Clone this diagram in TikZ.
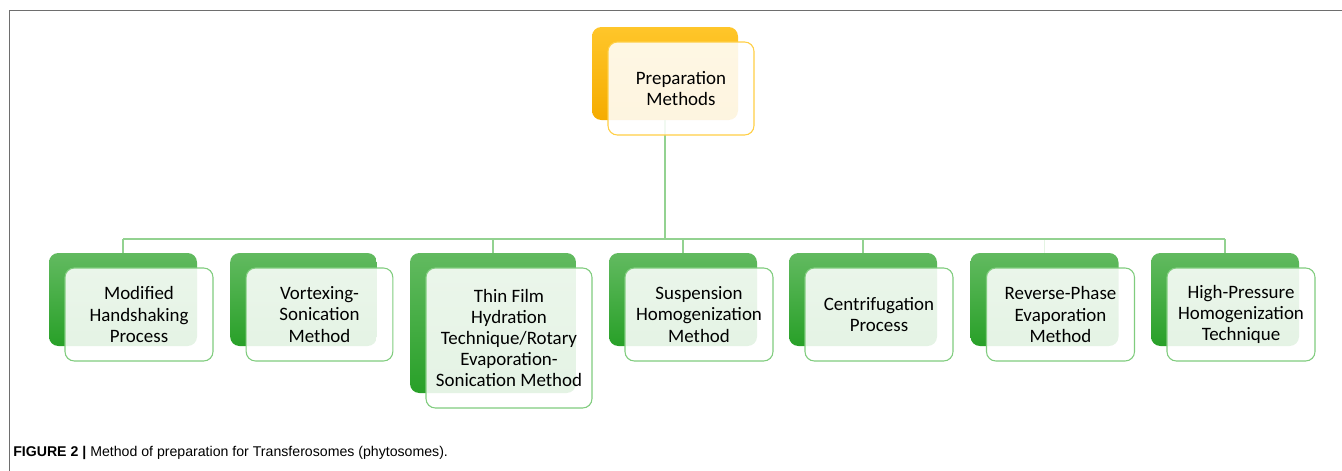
\documentclass[tikz,border=0pt]{standalone}
\usepackage{fontspec}
\setmainfont{Carlito}
\newfontfamily\capfont{Liberation Sans}
\usepackage{tikz}
\definecolor{GoldTop}{HTML}{FFC62A}
\definecolor{GoldBot}{HTML}{F5AC00}
\definecolor{GoldLine}{HTML}{FFCF45}
\definecolor{LeafTop}{HTML}{62BA60}
\definecolor{LeafBot}{HTML}{28A028}
\definecolor{LeafLine}{HTML}{80CC7E}
\definecolor{LinkGreen}{HTML}{93D291}
\definecolor{FrameGray}{HTML}{6E6E6E}

\begin{document}
\begin{tikzpicture}[x=0.75pt, y=-0.75pt]
  \tikzset{
    backbox/.style={rounded corners=7pt, inner sep=0pt, minimum width=111pt, minimum height=69.75pt},
    goldback/.style={backbox, top color=GoldTop, bottom color=GoldBot},
    leafback/.style={backbox, top color=LeafTop, bottom color=LeafBot},
    frontbox/.style={rounded corners=7pt, inner sep=0pt, minimum width=111pt, minimum height=69.75pt,
      fill=white, fill opacity=0.88, text opacity=1, line width=0.8pt,
      align=center, font=\fontsize{14.2}{15.9}\selectfont},
    link/.style={draw=LinkGreen, line width=0.8pt}
  }
  \useasboundingbox (0,0) rectangle (1342,471);
  \draw[FrameGray, line width=1.1pt] (9.5,471) |- (1342,10.5);

  % back plates
  \node[goldback, minimum width=109.5pt] (prep) at (665,73.5) {};
  \node[leafback] (hand) at (123,299.5) {};
  \node[leafback, minimum width=110pt] (vortex) at (303.5,299.5) {};
  \node[leafback, minimum width=124.5pt, minimum height=105pt] (film) at (493,323) {};
  \node[leafback] (susp) at (683,299.5) {};
  \node[leafback] (centri) at (863,299.5) {};
  \node[leafback] (reverse) at (1044.5,299.5) {};
  \node[leafback] (hpress) at (1225,299.5) {};

  % connectors
  \coordinate (bus) at (665,239);
  \draw[link] (prep.south) -- (bus);
  \draw[link] (hand.north |- bus) -- (hpress.north |- bus);
  \foreach \m in {hand,film,susp,centri,hpress}
    \draw[link] (\m.north |- bus) -- (\m.north);
  \draw[link, draw opacity=0.25] (reverse.north |- bus) -- (reverse.north);

  % front cards
  \node[frontbox, draw=GoldLine, minimum width=109.5pt] (prep-f) at ([shift={(16,15)}]prep) {Preparation\\Methods};
  \node[frontbox, draw=LeafLine] (hand-f) at ([shift={(16,15)}]hand) {Modified\\Handshaking\\Process};
  \node[frontbox, draw=LeafLine, minimum width=110pt] (vortex-f) at ([shift={(16,15)}]vortex) {Vortexing-\\Sonication\\Method};
  \node[frontbox, draw=LeafLine, minimum width=124.5pt, minimum height=105pt] (film-f) at ([shift={(16,15)}]film) {Thin Film\\Hydration\\Technique/Rotary\\Evaporation-\\Sonication Method};
  \node[frontbox, draw=LeafLine] (susp-f) at ([shift={(16,15)}]susp) {Suspension\\Homogenization\\Method};
  \node[frontbox, draw=LeafLine] (centri-f) at ([shift={(16,15)}]centri) {Centrifugation\\Process};
  \node[frontbox, draw=LeafLine] (reverse-f) at ([shift={(16,15)}]reverse) {Reverse-Phase\\Evaporation\\Method};
  \node[frontbox, draw=LeafLine] (hpress-f) at ([shift={(16,15)}]hpress) {High-Pressure\\Homogenization\\Technique};

  \node[anchor=base west, inner sep=0pt, font=\capfont\fontsize{10.6}{13}\selectfont] (caption) at (13,456)
    {\textbf{FIGURE 2 |} Method of preparation for Transferosomes (phytosomes).};
\end{tikzpicture}
\end{document}
